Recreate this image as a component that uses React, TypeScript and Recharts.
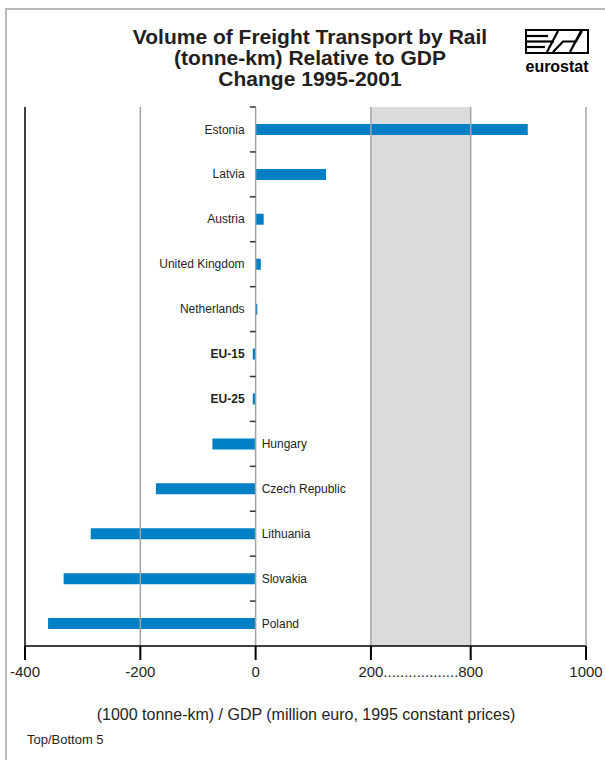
import React from 'react';
import { BarChart, Bar, XAxis, YAxis, ReferenceLine, ReferenceArea, LabelList } from 'recharts';

const countries = [
  'Estonia', 'Latvia', 'Austria', 'United Kingdom', 'Netherlands', 'EU-15',
  'EU-25', 'Hungary', 'Czech Republic', 'Lithuania', 'Slovakia', 'Poland',
];
const changes = [899, 122, 14, 9, 3, -5, -5, -75, -173, -286, -333, -360];
const aggregates = ['EU-15', 'EU-25'];
const axisTicks = [-400, -200, 0, 200, 800, 1000];
const gridLines = [-200, 0, 200, 800, 1000];

const INK = '#231f20';
const BLUE = '#0080c4';
const GRID = '#a3a3a3';

// the axis is broken: 200..800 is squeezed into the grey band
const BREAK_FROM = 200;
const BREAK_TO = 800;
const BREAK_SPAN = 173;

function toAxis(v: number) {
  if (v <= BREAK_FROM) return v;
  if (v >= BREAK_TO) return BREAK_FROM + BREAK_SPAN + (v - BREAK_TO);
  return BREAK_FROM + ((v - BREAK_FROM) / (BREAK_TO - BREAK_FROM)) * BREAK_SPAN;
}

const data = countries.map((name, i) => ({ name, value: changes[i], plotted: toAxis(changes[i]) }));

const gapMid = (toAxis(BREAK_FROM) + toAxis(BREAK_TO)) / 2;
const tickPositions = [...axisTicks.map(toAxis), gapMid];
const TICK_LEN = 10; // y-axis tick length, in axis units

function AxisTick(props: any) {
  const { x, y, payload } = props;
  const v = payload.value;
  if (Math.abs(v - gapMid) < 0.01) {
    return (
      <text x={x} y={y + 17} textAnchor="middle" fontSize={15} fill={INK}>
        ..................
      </text>
    );
  }
  const idx = tickPositions.findIndex((p) => Math.abs(p - v) < 0.01);
  return (
    <g>
      <line x1={x} x2={x} y1={y - 14} y2={y} stroke="#000" strokeWidth={2} />
      <text x={x} y={y + 17} textAnchor="middle" fontSize={15} fill={INK}>
        {axisTicks[idx]}
      </text>
    </g>
  );
}

function CountryLabel(props: any) {
  const vb = props.viewBox ?? props;
  const { x, y, width, height } = vb;
  const index = props.index;
  const value = changes[index];
  const name = countries[index];
  const isAggregate = aggregates.includes(name);
  const left = Math.min(x, x + width);
  const right = Math.max(x, x + width);
  const zero = value >= 0 ? left : right;
  const onLeft = value >= 0 || isAggregate;
  const cy = y + height / 2;
  return (
    <text
      x={onLeft ? zero - 11 : zero + 6}
      y={cy}
      dy={4}
      textAnchor={onLeft ? 'end' : 'start'}
      fontSize={12}
      fontWeight={isAggregate ? 'bold' : 'normal'}
      fill={INK}
    >
      {name}
    </text>
  );
}

function Logo() {
  return (
    <g>
      <rect x={526} y={30} width={62} height={23} fill="none" stroke="#000" strokeWidth={2} />
      <g stroke="#000" strokeWidth={2.2} fill="none">
        <line x1={527} y1={36} x2={548} y2={36} />
        <line x1={527} y1={41.5} x2={554} y2={41.5} />
        <line x1={527} y1={47} x2={545} y2={47} />
        <line x1={547} y1={52} x2={558} y2={31} />
        <polyline points="553,52 563,41.5 576,41.5 582,31" />
        <line x1={570} y1={52} x2={581} y2={31} />
      </g>
      <text x={557} y={72} textAnchor="middle" fontSize={16} fontWeight="bold" fill="#000" textLength={63} lengthAdjust="spacingAndGlyphs">
        eurostat
      </text>
    </g>
  );
}

export default function App() {
  return (
    <div
      style={{
        position: 'absolute',
        left: 0,
        top: 0,
        width: 605,
        height: 760,
        overflow: 'hidden',
        background: '#fff',
        fontFamily: '"Liberation Sans", Arial, sans-serif',
      }}
    >
      <div
        style={{
          position: 'absolute',
          left: 5,
          top: 8,
          width: 700,
          height: 800,
          borderLeft: '2px solid #b8b8b8',
          borderTop: '2px solid #b8b8b8',
        }}
      />
      <BarChart
        width={605}
        height={760}
        data={data}
        layout="vertical"
        margin={{ top: 107, right: 19, left: 25, bottom: 84 }}
        style={{ position: 'absolute', left: 0, top: 0 }}
      >
        <ReferenceArea x1={toAxis(BREAK_FROM)} x2={toAxis(BREAK_TO)} fill="#dcdcde" fillOpacity={1} stroke="none" />
        {gridLines.map((g) => (
          <ReferenceLine key={g} x={toAxis(g)} stroke={GRID} strokeWidth={1.5} />
        ))}
        <ReferenceLine x={-400} stroke="#000" strokeWidth={1.5} />
        {countries.map((c) => (
          <ReferenceLine
            key={'t' + c}
            segment={[{ x: -TICK_LEN, y: c }, { x: 0, y: c }]}
            position="start"
            stroke="#333"
            strokeWidth={1.5}
          />
        ))}
        <XAxis
          type="number"
          dataKey="plotted"
          domain={[-400, toAxis(1000)]}
          ticks={tickPositions}
          interval={0}
          allowDataOverflow
          height={30}
          tickSize={14}
          tickMargin={0}
          tickLine={false}
          axisLine={{ stroke: '#000', strokeWidth: 1.5 }}
          tick={<AxisTick />}
        />
        <YAxis type="category" dataKey="name" hide width={0} />
        <Bar dataKey="plotted" fill={BLUE} barSize={11} isAnimationActive={false}>
          <LabelList dataKey="name" content={<CountryLabel />} />
        </Bar>
      </BarChart>
      <svg
        width={605}
        height={760}
        style={{ position: 'absolute', left: 0, top: 0, pointerEvents: 'none' }}
      >
        <g fontWeight="bold" fontSize={21} fill={INK} textAnchor="middle">
          <text x={310} y={44}>Volume of Freight Transport by Rail</text>
          <text x={310} y={65}>(tonne-km) Relative to GDP</text>
          <text x={310} y={86}>Change 1995-2001</text>
        </g>
        <Logo />
        <text x={306} y={720} textAnchor="middle" fontSize={16} fill={INK}>
          (1000 tonne-km) / GDP (million euro, 1995 constant prices)
        </text>
        <text x={27} y={744} fontSize={13} fill={INK}>
          Top/Bottom 5
        </text>
      </svg>
    </div>
  );
}
